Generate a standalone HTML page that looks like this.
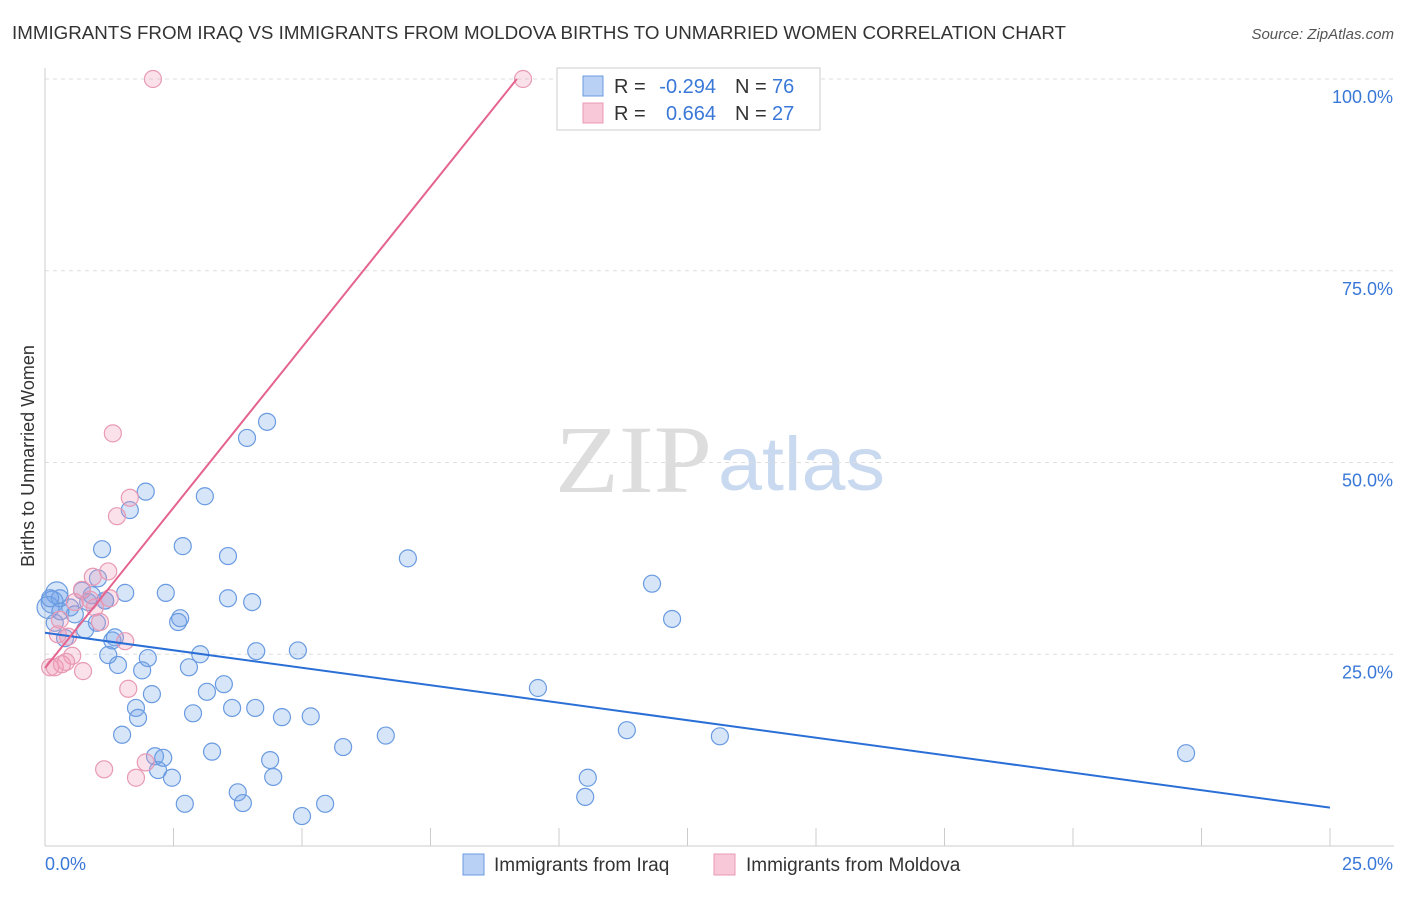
<!DOCTYPE html>
<html><head><meta charset="utf-8"><style>
body{margin:0;background:#fff;font-family:"Liberation Sans",sans-serif;}
</style></head><body>
<svg id="c" width="1406" height="892" xmlns="http://www.w3.org/2000/svg">
<text x="12" y="39" font-size="18.5" fill="#333" textLength="1054" lengthAdjust="spacingAndGlyphs">IMMIGRANTS FROM IRAQ VS IMMIGRANTS FROM MOLDOVA BIRTHS TO UNMARRIED WOMEN CORRELATION CHART</text>
<text x="1394" y="39" font-size="15" fill="#555" font-style="italic" text-anchor="end">Source: ZipAtlas.com</text>
<text x="34" y="456" font-size="18" fill="#333" transform="rotate(-90 34 456)" text-anchor="middle">Births to Unmarried Women</text>
<text x="555" y="492" font-size="96" fill="#ddd" font-family="Liberation Serif" textLength="157" lengthAdjust="spacingAndGlyphs">ZIP</text>
<text x="718" y="490" font-size="76" fill="#c9d9ef" textLength="167" lengthAdjust="spacingAndGlyphs">atlas</text>
<g id="grid"></g><g id="pts"></g><g id="lines"></g>
<g>
<rect x="557" y="68" width="263" height="62" fill="#fff" stroke="#ccc"/>
<rect x="583" y="76" width="20" height="20" fill="#b9d1f5" stroke="#6a9be0"/>
<rect x="583" y="103" width="20" height="20" fill="#f9c8d8" stroke="#e899b4"/>
<text x="614" y="93" font-size="20" fill="#333">R =</text>
<text x="716" y="93" font-size="20" fill="#3a78d8" text-anchor="end">-0.294</text>
<text x="735" y="93" font-size="20" fill="#333">N =</text>
<text x="772" y="93" font-size="20" fill="#3a78d8">76</text>
<text x="614" y="120" font-size="20" fill="#333">R =</text>
<text x="716" y="120" font-size="20" fill="#3a78d8" text-anchor="end">0.664</text>
<text x="735" y="120" font-size="20" fill="#333">N =</text>
<text x="772" y="120" font-size="20" fill="#3a78d8">27</text>
</g>
<g>
<rect x="463" y="854" width="21" height="21" fill="#b9d1f5" stroke="#6a9be0"/>
<text x="494" y="871" font-size="19" fill="#333">Immigrants from Iraq</text>
<rect x="714" y="854" width="21" height="21" fill="#f9c8d8" stroke="#e899b4"/>
<text x="746" y="871" font-size="19" fill="#333">Immigrants from Moldova</text>
</g>
</svg>
<script>
const yTicks=[25,50,75,100];
const xTickLabels=["0.0%","25.0%"];
const iraqX=[0.23,0.14,0.06,0.19,0.29,0.49,0.58,0.72,0.84,0.78,0.91,1.03,1.17,1.01,0.39,1.11,1.17,1.31,1.36,1.23,1.42,1.56,1.5,1.65,1.77,1.81,1.89,2.0,1.96,2.08,2.14,2.2,2.3,2.35,2.47,2.59,2.63,2.68,2.8,2.88,3.02,3.11,3.15,3.25,2.72,3.48,3.56,3.64,3.56,3.75,3.85,3.93,4.03,4.09,4.11,4.32,4.38,4.44,4.61,4.92,5.0,5.17,5.45,5.8,6.63,7.06,9.59,10.51,10.56,11.32,11.81,12.2,13.13,22.2,0.1,0.3];
const iraqY=[33.0,31.8,31.1,29.1,32.3,31.1,30.2,33.3,31.8,28.2,32.7,34.9,32.0,29.1,27.1,38.7,32.0,26.8,27.2,24.9,23.6,33.0,14.5,43.8,18.0,16.7,22.9,24.5,46.2,19.8,11.7,9.9,11.5,33.0,8.9,29.2,29.7,39.1,23.3,17.3,25.0,45.6,20.1,12.3,5.5,21.1,37.8,18.0,32.3,7.0,5.6,53.2,31.8,18.0,25.4,55.3,11.2,9.0,16.8,25.5,3.9,16.9,5.5,12.9,14.4,37.5,20.6,6.4,8.9,15.1,34.2,29.6,14.3,12.1,32.3,30.6];
const moldX=[2.1,9.3,1.32,1.65,1.4,1.23,0.93,0.72,0.88,1.07,1.56,0.45,0.29,0.53,0.41,0.19,0.1,0.33,0.74,1.62,1.15,1.96,1.77,1.26,0.97,0.58,0.25];
const moldY=[100,100,53.8,45.4,43.0,35.8,35.1,33.4,32.1,29.2,26.7,27.3,29.5,24.8,24.0,23.3,23.3,23.7,22.8,20.5,10.0,10.9,8.9,32.3,31.1,31.8,27.6];
const iraqLine=[27.8,5.0];
const moldLine=[23.2,100,9.18];
const NS="http://www.w3.org/2000/svg";
const sx=v=>45+v*51.4, sy=v=>846-v*7.67;
function mk(tag,attrs,parent){const e=document.createElementNS(NS,tag);for(const k in attrs)e.setAttribute(k,attrs[k]);parent.appendChild(e);return e;}
const grid=document.getElementById('grid');
yTicks.forEach(t=>{
 const l=mk('line',{x1:45,x2:1394,y1:sy(t),y2:sy(t),stroke:'#ddd','stroke-dasharray':'4,4'},grid);
 
 
 const tx=mk('text',{x:1393,y:sy(t)+24,'font-size':18,fill:'#3a78d8','text-anchor':'end'},grid);
 tx.textContent=t.toFixed(1)+'%';
 
 
});
const ax=mk('line',{x1:45,x2:45,y1:68,y2:846,stroke:'#ccc'},grid);


const bx=mk('line',{x1:45,x2:1394,y1:846,y2:846,stroke:'#ccc'},grid);


for(let i=0;i<=10;i++){const t=mk('line',{x1:sx(i*2.5),x2:sx(i*2.5),y1:828,y2:846,stroke:'#ccc'},grid);
 
 }
[[0,45,'start'],[25,1393,'end']].forEach((p,i)=>{const t=mk('text',{x:p[1],y:870,'font-size':18,fill:'#3a78d8','text-anchor':p[2]},grid);t.textContent=xTickLabels[i];
 
 });
const pts=document.getElementById('pts');
iraqX.forEach((x,i)=>{const c=mk('circle',{cx:sx(x),cy:sy(iraqY[i]),r:i<3?11:8.5,fill:'rgba(110,160,235,0.28)',stroke:'#6a9be0','stroke-width':1.2},pts);
 
 });
moldX.forEach((x,i)=>{const c=mk('circle',{cx:sx(x),cy:sy(moldY[i]),r:8.5,fill:'rgba(240,150,180,0.28)',stroke:'#e899b4','stroke-width':1.2},pts);
 
 });
const lines=document.getElementById('lines');
const l1=mk('line',{x1:sx(0),y1:sy(iraqLine[0]),x2:sx(25),y2:sy(iraqLine[1]),stroke:'#2a6fd6','stroke-width':2},lines);


const l2=mk('line',{x1:sx(0),y1:sy(moldLine[0]),x2:sx(moldLine[2]),y2:sy(moldLine[1]),stroke:'#e4638f','stroke-width':2},lines);


</script>
</body></html>
